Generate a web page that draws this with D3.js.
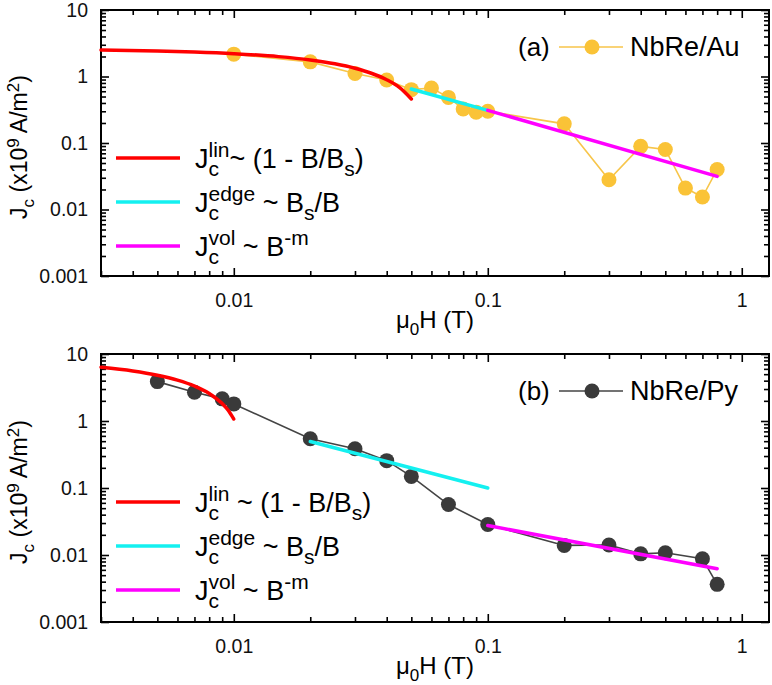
<!DOCTYPE html>
<html>
<head>
<meta charset="utf-8">
<script src="https://cdn.jsdelivr.net/npm/d3@7"></script>
<style>
  body { margin: 0; background: #fff; }
  svg { display: block; font-family: "Liberation Sans", Arial, sans-serif; }
  svg text { white-space: pre; }
</style>
</head>
<body>
<div id="chart"></div>
<script>
// ticks
var xMajor = [0.01, 0.1, 1];
var xLabels = ["0.01", "0.1", "1"];
var xMinor = [0.003, 0.004, 0.005, 0.006, 0.007, 0.008, 0.009,
              0.02, 0.03, 0.04, 0.05, 0.06, 0.07, 0.08, 0.09,
              0.2, 0.3, 0.4, 0.5, 0.6, 0.7, 0.8, 0.9];
var yMajor = [0.001, 0.01, 0.1, 1, 10];
var yLabels = ["0.001", "0.01", "0.1", "1", "10"];
var yMinor = [0.002, 0.003, 0.004, 0.005, 0.006, 0.007, 0.008, 0.009,
              0.02, 0.03, 0.04, 0.05, 0.06, 0.07, 0.08, 0.09,
              0.2, 0.3, 0.4, 0.5, 0.6, 0.7, 0.8, 0.9,
              2, 3, 4, 5, 6, 7, 8, 9];

// (a) NbRe/Au measured
var auField = [0.01, 0.02, 0.03, 0.04, 0.05, 0.06, 0.07, 0.08, 0.09, 0.1, 0.2, 0.3, 0.4, 0.5, 0.6, 0.7, 0.8];
var auJc    = [2.17, 1.66, 1.11, 0.885, 0.634, 0.67, 0.485, 0.325, 0.29, 0.30, 0.194, 0.028, 0.089, 0.080, 0.021, 0.0154, 0.040];
// (a) fits
var auLinB  = [0.003, 0.005, 0.007, 0.01, 0.015, 0.02, 0.025, 0.03, 0.035, 0.04, 0.045, 0.05];
var auLinJ  = [2.51, 2.42, 2.33, 2.20, 1.99, 1.77, 1.55, 1.33, 1.11, 0.895, 0.68, 0.46];
var auEdgeB = [0.05, 0.1];
var auEdgeJ = [0.65, 0.31];
var auVolB  = [0.1, 0.8];
var auVolJ  = [0.31, 0.0315];

// (b) NbRe/Py measured
var pyField = [0.005, 0.007, 0.009, 0.01, 0.02, 0.03, 0.04, 0.05, 0.07, 0.1, 0.2, 0.3, 0.4, 0.5, 0.7, 0.8];
var pyJc    = [3.87, 2.69, 2.14, 1.80, 0.543, 0.385, 0.256, 0.149, 0.0566, 0.0285, 0.0139, 0.0141, 0.0104, 0.0108, 0.0088, 0.00365];
// (b) fits
var pyLinB  = [0.003, 0.004, 0.005, 0.006, 0.007, 0.008, 0.009, 0.0095, 0.01];
var pyLinJ  = [6.34, 5.59, 4.83, 4.08, 3.33, 2.58, 1.82, 1.45, 1.07];
var pyEdgeB = [0.02, 0.1];
var pyEdgeJ = [0.495, 0.1];
var pyVolB  = [0.1, 0.8];
var pyVolJ  = [0.0275, 0.00625];

var W = 772, H = 685;
var left = 101, right = 769;

var svg = d3.select("#chart").append("svg")
    .attr("width", W)
    .attr("height", H);

var x = d3.scaleLog().domain([0.003, 1.28]).range([left, right]);

function zip(a, b) {
  return a.map(function(v, i) { return [v, b[i]]; });
}

// text with sub/superscripts, parts = [{t}|{sub,sup}]
function rich(g, x0, y0, parts, size, small, supUp) {
  var cx = 0;
  supUp = supUp || 0.42;
  parts.forEach(function(p) {
    if (p.t != null) {
      var t = g.append("text").attr("x", x0 + cx).attr("y", y0)
        .attr("font-size", size).text(p.t);
      cx += t.node().getComputedTextLength();
    } else {
      var w = 0;
      if (p.sub != null) {
        var s = g.append("text").attr("x", x0 + cx).attr("y", y0 + size * 0.3)
          .attr("font-size", small).text(p.sub);
        w = Math.max(w, s.node().getComputedTextLength());
      }
      if (p.sup != null) {
        var u = g.append("text").attr("x", x0 + cx).attr("y", y0 - size * supUp)
          .attr("font-size", small).text(p.sup);
        w = Math.max(w, u.node().getComputedTextLength());
      }
      cx += w;
    }
  });
  return cx;
}

function panel(cfg) {
  var y = d3.scaleLog().domain([0.001, 10]).range([cfg.bottom, cfg.top]);
  var g = svg.append("g");

  // axes, ticks pointing inward on all four sides
  g.append("g").attr("transform", "translate(0," + cfg.bottom + ")")
    .call(d3.axisBottom(x).tickValues(xMajor).tickSize(-8).tickSizeOuter(0).tickPadding(17)
      .tickFormat(function(d, i) { return xLabels[i]; }))
    .call(function(a) { a.select(".domain").remove(); });
  g.append("g").attr("transform", "translate(0," + cfg.bottom + ")")
    .call(d3.axisBottom(x).tickValues(xMinor).tickSize(-5).tickSizeOuter(0).tickFormat(""))
    .call(function(a) { a.select(".domain").remove(); });
  g.append("g").attr("transform", "translate(0," + cfg.top + ")")
    .call(d3.axisTop(x).tickValues(xMajor).tickSize(-8).tickSizeOuter(0).tickFormat(""))
    .call(function(a) { a.select(".domain").remove(); });
  g.append("g").attr("transform", "translate(0," + cfg.top + ")")
    .call(d3.axisTop(x).tickValues(xMinor).tickSize(-5).tickSizeOuter(0).tickFormat(""))
    .call(function(a) { a.select(".domain").remove(); });

  g.append("g").attr("transform", "translate(" + left + ",0)")
    .call(d3.axisLeft(y).tickValues(yMajor).tickSize(-8).tickSizeOuter(0).tickPadding(13)
      .tickFormat(function(d, i) { return yLabels[i]; }))
    .call(function(a) { a.select(".domain").remove(); });
  g.append("g").attr("transform", "translate(" + left + ",0)")
    .call(d3.axisLeft(y).tickValues(yMinor).tickSize(-5).tickSizeOuter(0).tickFormat(""))
    .call(function(a) { a.select(".domain").remove(); });
  g.append("g").attr("transform", "translate(" + right + ",0)")
    .call(d3.axisRight(y).tickValues(yMajor).tickSize(-8).tickSizeOuter(0).tickFormat(""))
    .call(function(a) { a.select(".domain").remove(); });
  g.append("g").attr("transform", "translate(" + right + ",0)")
    .call(d3.axisRight(y).tickValues(yMinor).tickSize(-5).tickSizeOuter(0).tickFormat(""))
    .call(function(a) { a.select(".domain").remove(); });

  g.selectAll(".tick line").attr("stroke", "#000").attr("stroke-width", 1.6);
  g.selectAll(".tick text").attr("font-size", 19.5).attr("fill", "#111")
    .attr("font-family", "Liberation Sans, Arial, sans-serif");

  g.append("rect")
    .attr("x", left).attr("y", cfg.top)
    .attr("width", right - left).attr("height", cfg.bottom - cfg.top)
    .attr("fill", "none").attr("stroke", "#000").attr("stroke-width", 2);

  // measured data
  var line = d3.line().x(function(d) { return x(d[0]); }).y(function(d) { return y(d[1]); });
  var pts = zip(cfg.field, cfg.jc);
  g.append("path").attr("d", line(pts))
    .attr("fill", "none").attr("stroke", cfg.lineColor).attr("stroke-width", 1.6);
  g.selectAll(".dot").data(pts).enter().append("circle")
    .attr("cx", function(d) { return x(d[0]); })
    .attr("cy", function(d) { return y(d[1]); })
    .attr("r", 7.5)
    .attr("fill", cfg.dotColor);

  // fits on top
  var smooth = d3.line().curve(d3.curveMonotoneX)
    .x(function(d) { return x(d[0]); }).y(function(d) { return y(d[1]); });
  cfg.fits.forEach(function(f) {
    g.append("path").attr("d", smooth(zip(f.b, f.j)))
      .attr("fill", "none").attr("stroke", f.color).attr("stroke-width", 3.5)
      .attr("stroke-linecap", "round");
  });

  // fit legend
  var rowY = [148, 192, 236];
  cfg.fits.forEach(function(f, i) {
    var yy = cfg.top + rowY[i];
    g.append("line").attr("x1", 116).attr("x2", 180).attr("y1", yy).attr("y2", yy)
      .attr("stroke", f.color).attr("stroke-width", 3.5);
    rich(g, 195, yy + 10, f.label, 27, 21);
  });

  // data legend
  var ly = cfg.top + 37;
  g.append("text").attr("x", 518).attr("y", ly + 9).attr("font-size", 26).text(cfg.tag);
  g.append("line").attr("x1", 559).attr("x2", 623).attr("y1", ly).attr("y2", ly)
    .attr("stroke", cfg.lineColor).attr("stroke-width", 1.6);
  g.append("circle").attr("cx", 592).attr("cy", ly).attr("r", 7.5).attr("fill", cfg.dotColor);
  g.append("text").attr("x", 630).attr("y", ly + 9).attr("font-size", 27).text(cfg.name);

  // axis titles
  var xt = g.append("g");
  var w = rich(xt, 0, cfg.bottom + 52, [{t: "\u03bc"}, {sub: "0"}, {t: "H (T)"}], 24, 17);
  xt.attr("transform", "translate(" + ((left + right) / 2 - w / 2) + ",0)");

  var yt = g.append("g");
  var wy = rich(yt, 0, 0, [{t: "J"}, {sub: "c"}, {t: " (x10"}, {sup: "9"}, {t: " A/m"}, {sup: "2"}, {t: ")"}], 23, 17, 0.36);
  yt.attr("transform", "translate(27," + ((cfg.top + cfg.bottom) / 2 + 4 + wy / 2) + ") rotate(-90)");
}

var linLabelA = [{t: "J"}, {sub: "c", sup: "lin"}, {t: "~ (1 - B/B"}, {sub: "s"}, {t: ")"}];
var linLabelB = [{t: "J"}, {sub: "c", sup: "lin"}, {t: " ~ (1 - B/B"}, {sub: "s"}, {t: ")"}];
var edgeLabel = [{t: "J"}, {sub: "c", sup: "edge"}, {t: " ~ B"}, {sub: "s"}, {t: "/B"}];
var volLabel  = [{t: "J"}, {sub: "c", sup: "vol"}, {t: " ~ B"}, {sup: "-m"}];

panel({
  top: 10, bottom: 276, tag: "(a)", name: "NbRe/Au",
  field: auField, jc: auJc, lineColor: "#F7C54A", dotColor: "#FAC337",
  fits: [
    {b: auLinB, j: auLinJ, color: "#FF0000", label: linLabelA},
    {b: auEdgeB, j: auEdgeJ, color: "#14F0F0", label: edgeLabel},
    {b: auVolB, j: auVolJ, color: "#FF00FF", label: volLabel}
  ]
});

panel({
  top: 354, bottom: 622, tag: "(b)", name: "NbRe/Py",
  field: pyField, jc: pyJc, lineColor: "#444", dotColor: "#3A3A3A",
  fits: [
    {b: pyLinB, j: pyLinJ, color: "#FF0000", label: linLabelB},
    {b: pyEdgeB, j: pyEdgeJ, color: "#14F0F0", label: edgeLabel},
    {b: pyVolB, j: pyVolJ, color: "#FF00FF", label: volLabel}
  ]
});
</script>
</body>
</html>
